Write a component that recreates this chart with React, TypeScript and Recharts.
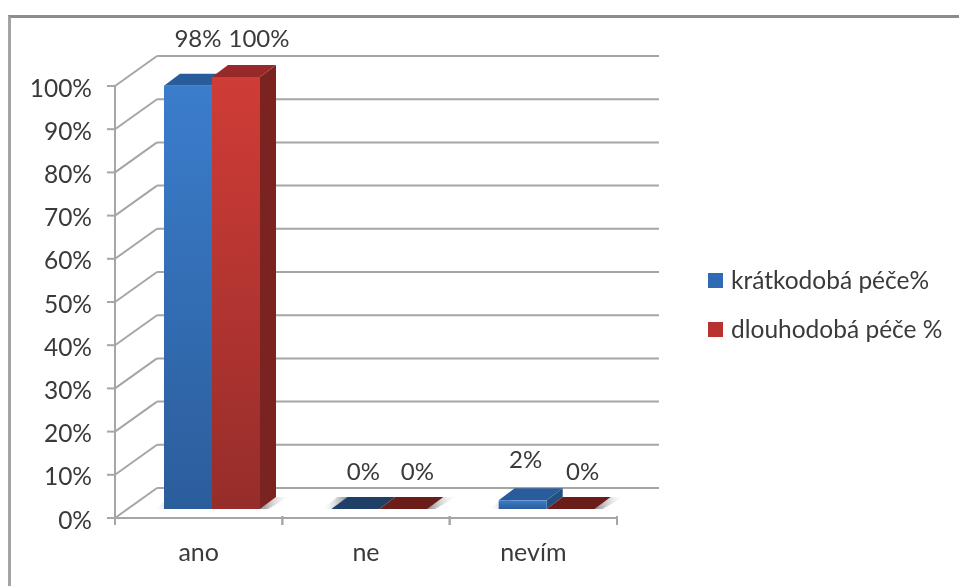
import React from "react";
import { Bar, BarChart, CartesianGrid, LabelList, Legend, XAxis, YAxis } from "recharts";

const categories = ["ano", "ne", "nevím"];
const shortTerm = [98, 0, 2];
const longTerm = [100, 0, 0];
const yTicks = [0, 10, 20, 30, 40, 50, 60, 70, 80, 90, 100];
const seriesNames = ["krátkodobá péče%", "dlouhodobá péče %"];

const data = categories.map((name, i) => ({
  name,
  shortTerm: shortTerm[i],
  longTerm: longTerm[i],
}));

const FONT = "Lato, 'Open Sans', sans-serif";
const TEXT = "#3a3a3a";
const LINE = "#a6a6a6";

// fake 3d: floor depth of the box, and how far bars stand back from the front edge
const DEPTH_X = 42;
const DEPTH_Y = 30;
const BAR_DX = 13;
const BAR_DY = 9;
const BAR_DEPTH_X = 16;
const BAR_DEPTH_Y = 12;

const BLUE = { top: "#295c9a", side: "#24507f", flat: "#1f3f66" };
const RED = { top: "#97292a", side: "#7a2320", flat: "#6b1d1a" };

function Bar3D(props: any) {
  const { x, y, width, height, colors, grad, shadow } = props;
  const left = x + BAR_DX;
  const right = left + width;
  const top = y - BAR_DY;
  const bottom = top + height;
  const dx = BAR_DEPTH_X;
  const dy = BAR_DEPTH_Y;
  const flat = height < 1;
  return (
    <g>
      {shadow === "right" && (
        <polygon
          points={`${right},${bottom} ${right + dx},${bottom - dy} ${right + dx + 13},${bottom - dy} ${right + 8},${bottom}`}
          fill="url(#shadowRight)"
        />
      )}
      {shadow === "left" && (
        <polygon
          points={`${left},${bottom} ${left + dx},${bottom - dy} ${left + dx - 10},${bottom - dy} ${left - 9},${bottom}`}
          fill="url(#shadowLeft)"
        />
      )}
      {!flat && (
        <polygon
          points={`${right},${top} ${right + dx},${top - dy} ${right + dx},${bottom - dy} ${right},${bottom}`}
          fill={colors.side}
        />
      )}
      <polygon
        points={`${left},${top} ${left + dx},${top - dy} ${right + dx},${top - dy} ${right},${top}`}
        fill={flat ? colors.flat : colors.top}
      />
      {!flat && <rect x={left} y={top} width={width} height={height} fill={`url(#${grad})`} />}
    </g>
  );
}

function gridLine(props: any) {
  const { x1, x2, y1 } = props;
  return (
    <g>
      <line x1={x1} y1={y1} x2={x1 + DEPTH_X} y2={y1 - DEPTH_Y} stroke={LINE} strokeWidth={2} />
      <line x1={x1 + DEPTH_X} y1={y1 - DEPTH_Y} x2={x2 + DEPTH_X} y2={y1 - DEPTH_Y} stroke={LINE} strokeWidth={2} />
    </g>
  );
}

function CategoryTick(props: any) {
  const { x, y, payload } = props;
  const band = 167.3;
  return (
    <g>
      <line x1={x - band / 2} y1={y - 8} x2={x - band / 2} y2={y + 1} stroke={LINE} strokeWidth={2} />
      <line x1={x + band / 2} y1={y - 8} x2={x + band / 2} y2={y + 1} stroke={LINE} strokeWidth={2} />
      <text x={x} y={y + 37} textAnchor="middle" fontFamily={FONT} fontSize={25} fill={TEXT}>
        {payload.value}
      </text>
    </g>
  );
}

function PercentTick(props: any) {
  const { x, y, payload } = props;
  return (
    <text x={x} y={y + 2} dy="0.35em" textAnchor="end" fontFamily={FONT} fontSize={24.5} fill={TEXT}>
      {payload.value}%
    </text>
  );
}

// hand placed in the original, labels do not sit on the bars
const LABEL_SHIFT: Record<string, number[][]> = {
  shortTerm: [[10, -47], [8, -37], [3, -40]],
  longTerm: [[23, -38], [14, -37], [12, -37]],
};

const barLabel = (key: string) => (props: any) => {
  const { x, y, width, index, value } = props;
  const [dx, dy] = LABEL_SHIFT[key][index];
  return (
    <text
      x={x + width / 2 + BAR_DX + dx}
      y={y - BAR_DY + dy + 8}
      textAnchor="middle"
      fontFamily={FONT}
      fontSize={24}
      fill={TEXT}
    >
      {value}%
    </text>
  );
};

function LegendBox() {
  const colors = ["#2f6bb5", "#b8322f"];
  return (
    <div style={{ fontFamily: FONT, fontSize: 24.5, color: TEXT }}>
      {seriesNames.map((name, i) => (
        <div key={name} style={{ display: "flex", alignItems: "center", height: 24, marginBottom: i === 0 ? 25 : 0 }}>
          <span style={{ width: 15, height: 15, background: colors[i], marginRight: 8, flexShrink: 0, position: "relative", top: 1 }} />
          <span style={{ whiteSpace: "nowrap" }}>{name}</span>
        </div>
      ))}
    </div>
  );
}

export default function App() {
  return (
    <div style={{ position: "absolute", left: 0, top: 0, width: 959, height: 586, background: "#fff", overflow: "hidden" }}>
      <div
        style={{
          position: "absolute",
          left: 8,
          top: 15,
          width: 960,
          height: 580,
          borderTop: "3px solid #8c8c8c",
          borderLeft: "3px solid #a3a3a3",
          boxSizing: "border-box",
        }}
      />
      <BarChart
        width={959}
        height={586}
        data={data}
        barSize={48}
        barGap={0}
        margin={{ top: 86, right: 91, bottom: 0, left: 0 }}
        style={{ position: "absolute", left: 0, top: 0, filter: "blur(0.6px)" }}
      >
        <defs>
          <linearGradient id="blueFace" x1="0" y1="0" x2="0" y2="1">
            <stop offset="0" stopColor="#3b7dcc" />
            <stop offset="1" stopColor="#2b5d9b" />
          </linearGradient>
          <linearGradient id="redFace" x1="0" y1="0" x2="0" y2="1">
            <stop offset="0" stopColor="#d03c37" />
            <stop offset="1" stopColor="#962d2a" />
          </linearGradient>
          <linearGradient id="shadowRight" x1="0" y1="0" x2="1" y2="0">
            <stop offset="0" stopColor="#8a8a8a" />
            <stop offset="1" stopColor="#ffffff" stopOpacity={0.2} />
          </linearGradient>
          <linearGradient id="shadowLeft" x1="1" y1="0" x2="0" y2="0">
            <stop offset="0" stopColor="#8a8a8a" />
            <stop offset="1" stopColor="#ffffff" stopOpacity={0.2} />
          </linearGradient>
        </defs>
        <CartesianGrid vertical={false} horizontal={gridLine} />
        <XAxis
          dataKey="name"
          height={68}
          axisLine={{ stroke: LINE, strokeWidth: 2 }}
          tickLine={false}
          tick={<CategoryTick />}
          tickMargin={0}
          interval={0}
        />
        <YAxis
          domain={[0, 100]}
          ticks={yTicks}
          width={115}
          axisLine={{ stroke: LINE, strokeWidth: 2 }}
          tickLine={{ stroke: LINE, strokeWidth: 2 }}
          tickSize={8}
          tickMargin={15}
          tick={<PercentTick />}
        />
        <Bar
          dataKey="shortTerm"
          name={seriesNames[0]}
          isAnimationActive={false}
          shape={(p: any) => <Bar3D {...p} colors={BLUE} grad="blueFace" shadow="left" />}
        >
          <LabelList dataKey="shortTerm" content={barLabel("shortTerm")} />
        </Bar>
        <Bar
          dataKey="longTerm"
          name={seriesNames[1]}
          isAnimationActive={false}
          shape={(p: any) => <Bar3D {...p} colors={RED} grad="redFace" shadow="right" />}
        >
          <LabelList dataKey="longTerm" content={barLabel("longTerm")} />
        </Bar>
        <Legend
          layout="vertical"
          align="right"
          verticalAlign="top"
          content={<LegendBox />}
          wrapperStyle={{ left: 708, top: 267, width: 251, right: "auto" }}
        />
      </BarChart>
    </div>
  );
}
